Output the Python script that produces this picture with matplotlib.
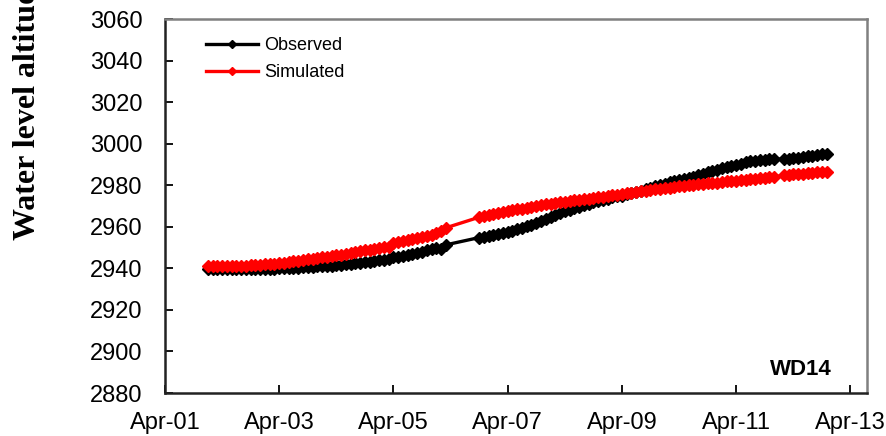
import numpy as np
import pandas as pd
import matplotlib.pyplot as plt
import matplotlib.dates as mdates

# 2-hourly readings, hours counted from Apr-01 00:00
# (no record Apr-06 00:00-10:00 and Apr-11 18:00)
hours = list(range(18, 120, 2)) + list(range(132, 258, 2)) + list(range(260, 280, 2))

observed = [
    2939.5, 2939.5, 2939.5,  # Apr-01
    2939.5, 2939.5, 2939.5, 2939.6, 2939.6, 2939.6, 2939.7, 2939.7, 2939.7, 2939.8, 2939.8, 2939.9,  # Apr-02
    2940.0, 2940.1, 2940.2, 2940.3, 2940.4, 2940.5, 2940.6, 2940.8, 2940.9, 2941.0, 2941.2, 2941.3,  # Apr-03
    2941.5, 2941.7, 2941.9, 2942.1, 2942.4, 2942.6, 2942.9, 2943.2, 2943.5, 2943.8, 2944.1, 2944.4,  # Apr-04
    2945.3, 2945.6, 2946.0, 2946.4, 2946.9, 2947.4, 2948.0, 2948.6, 2949.3, 2949.9, 2949.5, 2951.3,  # Apr-05
    2954.8, 2955.2, 2955.6, 2956.0, 2956.5, 2957.0,  # Apr-06
    2957.5, 2958.1, 2958.7, 2959.4, 2960.2, 2961.0, 2961.9, 2962.8, 2963.7, 2964.6, 2965.6, 2966.5,  # Apr-07
    2967.5, 2968.2, 2968.9, 2969.6, 2970.3, 2971.0, 2971.7, 2972.4, 2973.0, 2973.6, 2974.1, 2974.6,  # Apr-08
    2975.0, 2975.6, 2976.2, 2976.8, 2977.4, 2978.0, 2978.7, 2979.4, 2980.1, 2980.8, 2981.4, 2982.0,  # Apr-09
    2982.5, 2983.0, 2983.6, 2984.2, 2984.8, 2985.5, 2986.2, 2986.9, 2987.5, 2988.1, 2988.6, 2989.1,  # Apr-10
    2989.8, 2990.4, 2991.0, 2991.5, 2991.9, 2992.1, 2992.3, 2992.4, 2992.5, 2992.6, 2992.8,  # Apr-11
    2993.0, 2993.3, 2993.6, 2994.0, 2994.3, 2994.6, 2994.8, 2995.1,  # Apr-12
]

simulated = [
    2941.0, 2941.0, 2941.0,  # Apr-01
    2941.0, 2941.0, 2941.1, 2941.1, 2941.2, 2941.3, 2941.4, 2941.5, 2941.7, 2941.9, 2942.1, 2942.3,  # Apr-02
    2942.5, 2942.8, 2943.1, 2943.4, 2943.7, 2944.0, 2944.3, 2944.6, 2945.0, 2945.3, 2945.6, 2945.9,  # Apr-03
    2946.2, 2946.6, 2947.0, 2947.4, 2947.8, 2948.2, 2948.6, 2949.0, 2949.4, 2949.8, 2950.2, 2950.5,  # Apr-04
    2952.0, 2952.5, 2953.0, 2953.5, 2954.0, 2954.5, 2955.0, 2955.6, 2956.2, 2957.0, 2958.0, 2959.5,  # Apr-05
    2964.6, 2965.2, 2965.7, 2966.2, 2966.7, 2967.2,  # Apr-06
    2967.6, 2968.0, 2968.4, 2968.8, 2969.2, 2969.6, 2970.0, 2970.4, 2970.8, 2971.2, 2971.5, 2971.8,  # Apr-07
    2972.1, 2972.4, 2972.7, 2973.0, 2973.3, 2973.6, 2973.9, 2974.2, 2974.5, 2974.8, 2975.1, 2975.4,  # Apr-08
    2975.8, 2976.2, 2976.5, 2976.8, 2977.1, 2977.4, 2977.7, 2978.0, 2978.3, 2978.6, 2978.9, 2979.2,  # Apr-09
    2979.4, 2979.6, 2979.9, 2980.1, 2980.4, 2980.6, 2980.9, 2981.1, 2981.3, 2981.5, 2981.8, 2982.0,  # Apr-10
    2982.2, 2982.4, 2982.6, 2982.8, 2983.0, 2983.3, 2983.6, 2983.8, 2984.0, 2984.7, 2984.9,  # Apr-11
    2985.2, 2985.4, 2985.6, 2985.8, 2986.0, 2986.2, 2986.4, 2986.5,  # Apr-12
]

y_ticks = [2880, 2900, 2920, 2940, 2960, 2980, 3000, 3020, 3040, 3060]
tick_days = [1, 3, 5, 7, 9, 11, 13]
well_name = "WD14"

t0 = pd.Timestamp("2013-04-01")
times = t0 + pd.to_timedelta(hours, unit="h")

plt.rcParams['font.family'] = ['Liberation Sans', 'DejaVu Sans']

fig = plt.figure(figsize=(8.87, 4.36), dpi=100)
ax = fig.add_axes([0.186, 0.0986, 0.7915, 0.8578])

ax.plot(times, observed, color='black', lw=2.4, marker='D', ms=6,
        label='Observed')
ax.plot(times, simulated, color='red', lw=2.4, marker='D', ms=6,
        label='Simulated')

ax.set_xlim(t0, t0 + pd.Timedelta(hours=295))
ax.set_ylim(2880, 3060)
ax.set_yticks(y_ticks)
ax.xaxis.set_major_locator(mdates.DayLocator(bymonthday=tick_days))
ax.xaxis.set_major_formatter(mdates.DateFormatter('%b-%d'))

ax.tick_params(direction='in', length=6, width=1.3, labelsize=17)
ax.tick_params(axis='y', pad=16)
ax.tick_params(axis='x', pad=14)

for s in ['left', 'bottom']:
    ax.spines[s].set_color('#222222')
    ax.spines[s].set_linewidth(1.8)
for s in ['top', 'right']:
    ax.spines[s].set_color('#808080')
    ax.spines[s].set_linewidth(1.8)

leg = ax.legend(loc='upper left', frameon=False, fontsize=13,
                bbox_to_anchor=(0.035, 0.995), handlelength=2.9,
                handletextpad=0.35, labelspacing=0.55, markerscale=0.65)

ax.text(0.95, 0.035, well_name, transform=ax.transAxes, ha='right',
        va='bottom', fontsize=16, fontweight='bold')

fig.text(0.03, 0.45, 'Water level altitude (m)', rotation=90,
         ha='center', va='bottom', fontsize=23, fontweight='bold',
         family=['Liberation Serif', 'DejaVu Serif'])

fig.savefig('out.png', dpi=100)
